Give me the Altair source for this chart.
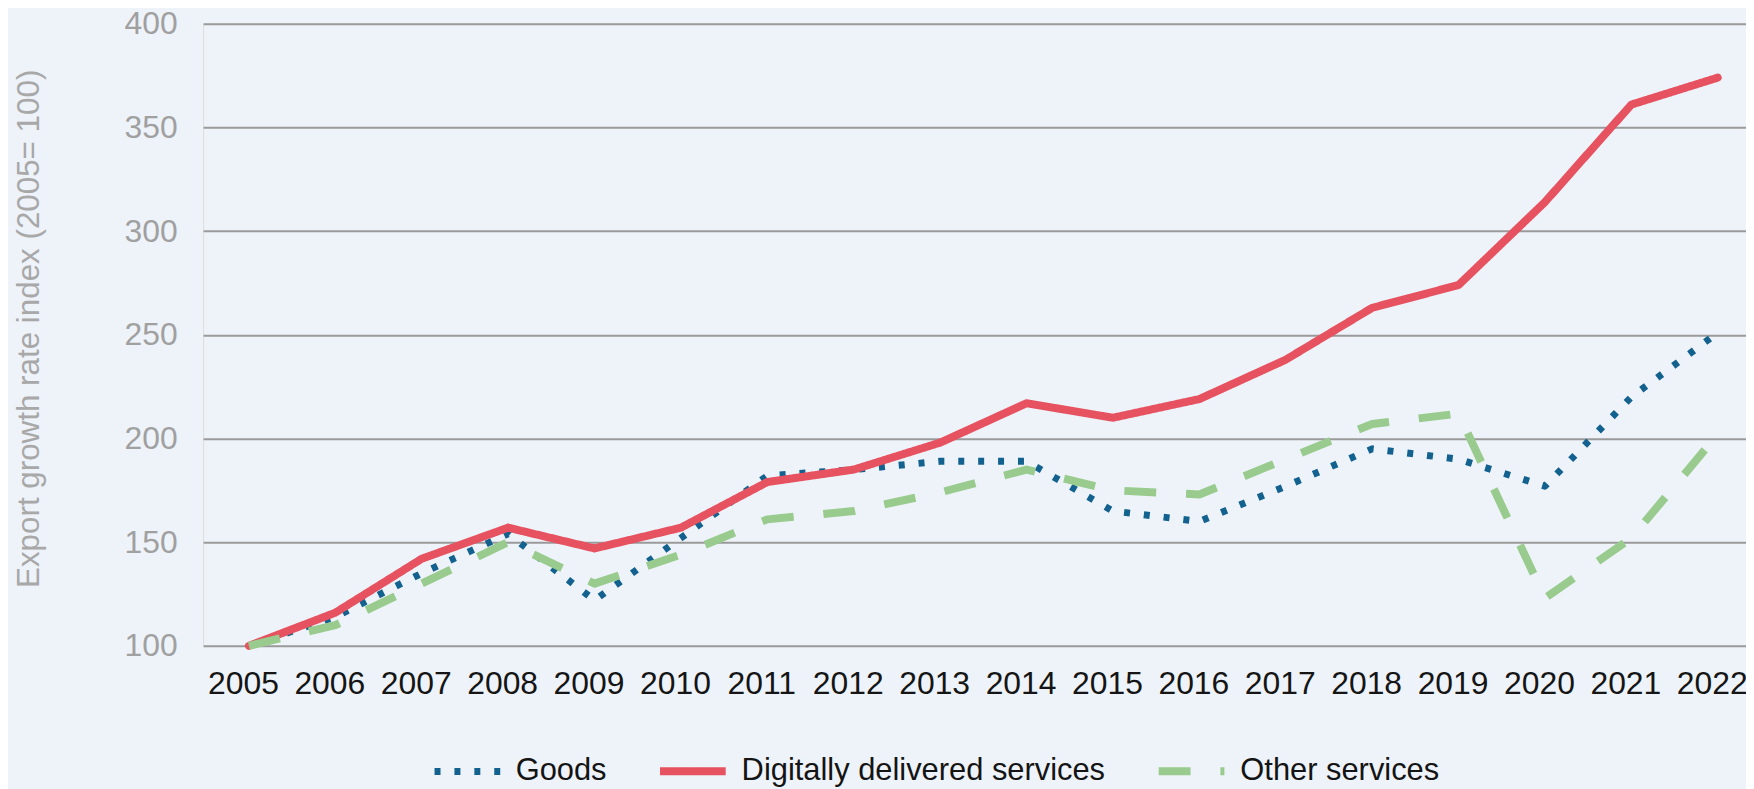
import altair as alt
import pandas as pd

years = list(range(2005, 2023))
goods = [100, 114, 135, 154, 122, 152, 182, 185, 189, 189, 165, 160, 177, 195, 190, 177, 220, 251]
digital = [100, 116, 142, 157, 147, 157, 179, 185, 198, 217, 210, 219, 238, 263, 274, 314, 361, 374]
other = [100, 110, 130, 150, 130, 144, 161, 165, 174, 185, 175, 173, 190, 207, 212, 123, 152, 202]

series_names = ["Goods", "Digitally delivered services", "Other services"]
series_colors = ["#12618E", "#E6525F", "#98CB8D"]
series_dash = [[6, 14], [1, 0], [32, 30]]
series_width = [7, 8, 8]
series_caps = ["butt", "round", "butt"]
y_ticks = [100, 150, 200, 250, 300, 350, 400]

rows = []
for name, vals in zip(series_names, [goods, digital, other]):
    for yr, v in zip(years, vals):
        rows.append({"year": yr, "value": v, "series": name})
df = pd.DataFrame(rows)

FONT = "Liberation Sans"

legend = alt.Legend(
    title=None,
    orient="none",
    legendX=229,
    legendY=714,
    direction="horizontal",
    labelFont=FONT,
    labelFontSize=31,
    labelColor="#141414",
    labelLimit=0,
    symbolType="stroke",
    symbolSize=4356,
    labelOffset=12,
    columnPadding=37,
    padding=0,
)

x = alt.X(
    "year:Q",
    scale=alt.Scale(domain=[2004.47, 2022.327], nice=False, zero=False),
    axis=alt.Axis(
        values=years, format="d", grid=False, domain=False, ticks=False, tickSize=0,
        labelFont=FONT, labelFontSize=32, labelColor="#151515", labelPadding=23,
        labelOffset=-6, labelFlush=False, labelOverlap=False, title=None,
    ),
)
y = alt.Y(
    "value:Q",
    scale=alt.Scale(domain=[100, 400], nice=False, zero=False),
    axis=alt.Axis(
        values=y_ticks, grid=True, gridColor="#9a9a9a", gridWidth=2, domain=False,
        ticks=False, tickSize=0, labelFont=FONT, labelFontSize=32, labelColor="#a0a0a0",
        labelPadding=26, title="Export growth rate index (2005= 100)", titleFont=FONT,
        titleFontSize=31.5, titleColor="#a8a8a8", titleFontWeight="normal",
        titleX=-174, titleY=306, titleAngle=270, titleAlign="center", titleBaseline="middle",
    ),
)
color = alt.Color("series:N", scale=alt.Scale(domain=series_names, range=series_colors), legend=legend)
dash = alt.StrokeDash("series:N", scale=alt.Scale(domain=series_names, range=series_dash), legend=legend)
swidth = alt.StrokeWidth("series:N", scale=alt.Scale(type="ordinal", domain=series_names, range=series_width), legend=legend)

layers = [
    alt.Chart(df)
    .mark_line(strokeCap=cap, strokeJoin="round")
    .encode(x=x, y=y, color=color, strokeDash=dash, strokeWidth=swidth)
    .transform_filter(alt.datum.series == name)
    for name, cap in zip(series_names, series_caps)
]

chart = alt.layer(*layers).properties(
    width=1550,
    height=625,
    autosize=alt.AutoSizeParams(type="none"),
    padding={"left": 196, "top": 14, "right": 0, "bottom": 142},
    background="#EEF3FA",
).configure_view(stroke=None).configure(font=FONT)

chart.save("out.html", embed_options={"renderer": "svg", "actions": False})
